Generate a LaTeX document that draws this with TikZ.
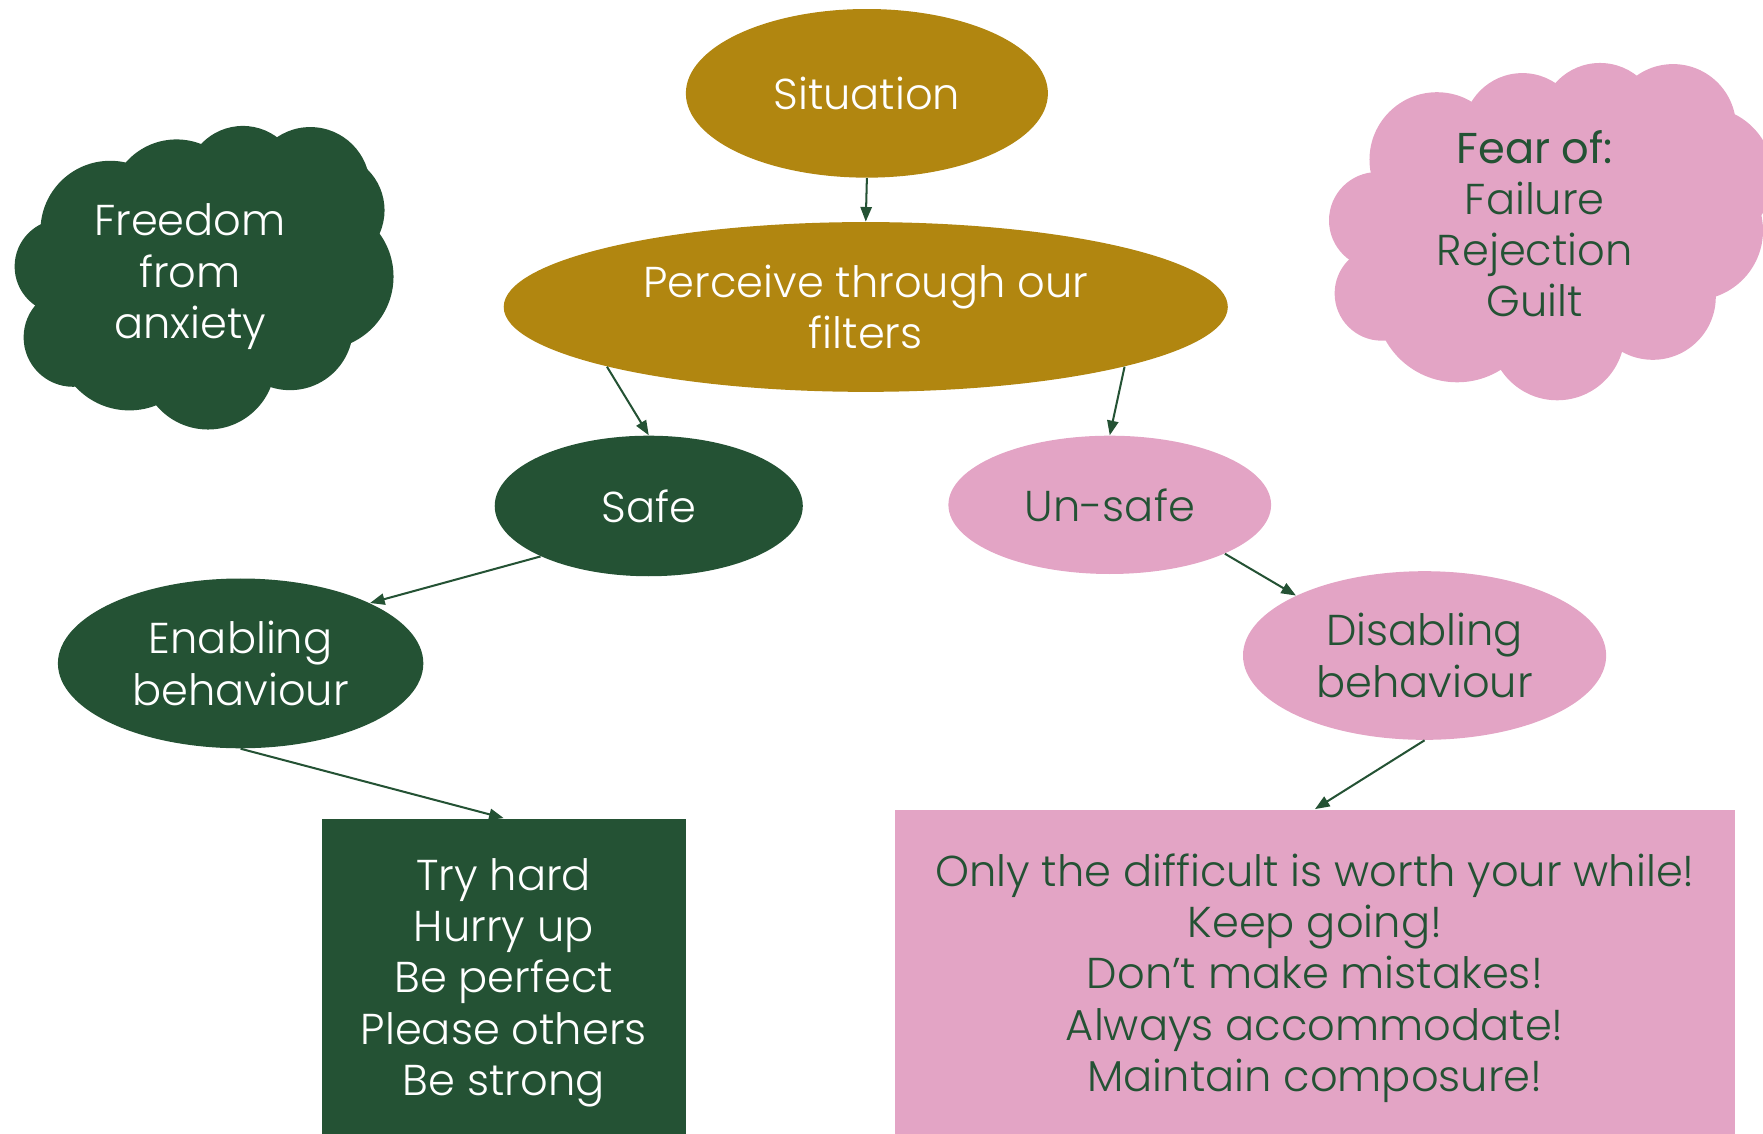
\documentclass[tikz,border=0pt]{standalone}
\usepackage{fontspec}
\setmainfont{Poppins}[UprightFont=* Light]
\newfontfamily\headface{Poppins}
\usetikzlibrary{shapes.geometric,arrows.meta}
\definecolor{forest}{RGB}{36,82,52}
\definecolor{ochre}{RGB}{177,134,16}
\definecolor{blush}{RGB}{227,164,197}

\begin{document}
\begin{tikzpicture}[x=0.5pt,y=-0.5pt,
  every node/.style={font=\fontsize{19.2}{22.75}\selectfont, align=center, inner sep=0pt},
  oval/.style={ellipse, draw=none},
  goldoval/.style={oval, fill=ochre, text=white},
  greenoval/.style={oval, fill=forest, text=white},
  pinkoval/.style={oval, fill=blush, text=forest},
  panel/.style={rectangle, draw=none},
  arr/.style={draw=forest, line width=0.9pt, -{Triangle[length=6.5pt,width=5pt]}}
]
\useasboundingbox (0,0) rectangle (1568,1008);

% cloud: freedom from anxiety
\fill[forest] (180,250) ellipse [x radius=130, y radius=95];
\fill[forest] (55,237) circle [radius=42];
\fill[forest] (65,300) circle [radius=44];
\fill[forest] (115,300) circle [radius=65];
\fill[forest] (185,322) circle [radius=60];
\fill[forest] (258,291) circle [radius=56];
\fill[forest] (285,246) circle [radius=65];
\fill[forest] (291,187) circle [radius=51];
\fill[forest] (276,166) circle [radius=53];
\fill[forest] (216,163) circle [radius=51];
\fill[forest] (157,184) circle [radius=60];
\fill[forest] (98,205) circle [radius=62];

% cloud: fears
\fill[blush] (1375,205) ellipse [x radius=140, y radius=95];
\fill[blush] (1278,142) circle [radius=60];
\fill[blush] (1354,118) circle [radius=53];
\fill[blush] (1423,109) circle [radius=53];
\fill[blush] (1488,113) circle [radius=56];
\fill[blush] (1515,157) circle [radius=62];
\fill[blush] (1506,205) circle [radius=62];
\fill[blush] (1470,264) circle [radius=56];
\fill[blush] (1385,296) circle [radius=60];
\fill[blush] (1296,267) circle [radius=73];
\fill[blush] (1229,261) circle [radius=42];
\fill[blush] (1225,196) circle [radius=43];

\node[text=white] (freedom) at (169,246) {Freedom\\from\\anxiety};
\node[text=forest] (fear) at (1365,199) {{\headface Fear of:}\\Failure\\Rejection\\Guilt};

% flow nodes
\node[goldoval, minimum width=161pt, minimum height=75pt] (sit) at (771,83) {Situation};
\node[goldoval, minimum width=322pt, minimum height=75.5pt] (perc) at (770,273) {Perceive through our\\filters};
\node[greenoval, minimum width=137pt, minimum height=62.5pt] (safe) at (577,450) {Safe};
\node[pinkoval, minimum width=143.5pt, minimum height=61.5pt] (unsafe) at (987,449) {Un-safe};
\node[greenoval, minimum width=162.5pt, minimum height=75.5pt] (enab) at (214,590) {Enabling\\behaviour};
\node[pinkoval, minimum width=161.5pt, minimum height=75pt] (disab) at (1267,583) {Disabling\\behaviour};

% panels run past the lower edge of the page
\node[panel, fill=forest, text=white, minimum width=162pt, minimum height=146pt] (drivers) at (448,874)
  {Try hard\\Hurry up\\Be perfect\\Please others\\Be strong};
\node[panel, fill=blush, text=forest, minimum width=373.5pt, minimum height=150pt] (rules) at (1169.5,870)
  {Only the difficult is worth your while!\\Keep going!\\Don’t make mistakes!\\Always accommodate!\\Maintain composure!};

% connectors
\draw[arr] (sit.south) -- (perc.north);
\draw[arr] (perc.193) -- (safe.north);
\draw[arr] (perc.347) -- (unsafe.north);
\draw[arr] (safe.205) -- (enab.25);
\draw[arr] (unsafe.337) -- (disab.155);
\draw[arr] (enab.south) -- (drivers.north);
\draw[arr] (disab.south) -- (rules.north);
\end{tikzpicture}
\end{document}
